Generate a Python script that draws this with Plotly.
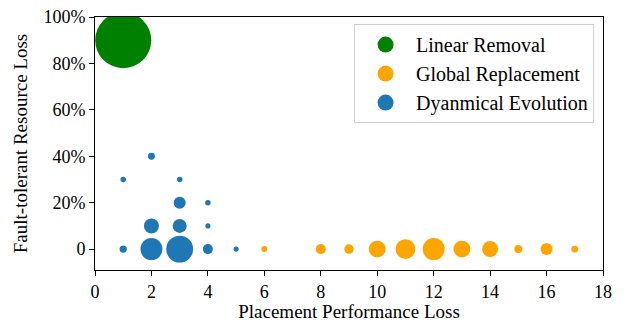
import math
import plotly.graph_objects as go

# Data
lin_x = [1]
lin_y = [90]
lin_w = [104]

glob_x = [6, 8, 9, 10, 11, 12, 13, 14, 15, 16, 17]
glob_y = [0, 0, 0, 0, 0, 0, 0, 0, 0, 0, 0]
glob_w = [1.2, 3.3, 3.0, 9.5, 13, 16, 9.5, 8.5, 2.1, 4.8, 1.6]

dyn_x = [1, 1, 2, 2, 2, 3, 3, 3, 3, 4, 4, 4, 5]
dyn_y = [0, 30, 40, 10, 0, 30, 20, 10, 0, 20, 10, 0, 0]
dyn_w = [1.76, 1, 1.6, 7.4, 16, 1, 4.8, 6.5, 24, 1, 0.85, 3.3, 0.9]

x_ticks = [0, 2, 4, 6, 8, 10, 12, 14, 16, 18]
y_ticks = [0, 20, 40, 60, 80, 100]
y_labels = ["0", "20%", "40%", "60%", "80%", "100%"]

names = ["Linear Removal", "Global Replacement", "Dyanmical Evolution"]
colors = ["#008000", "#ffa500", "#1f77b4"]

FONT = "Liberation Serif, Times New Roman, serif"
UNIT = 5.5  # diameter (px) of a weight-1 bubble


def diam(ws):
    return [UNIT * math.sqrt(w) for w in ws]


fig = go.Figure()
for (xs, ys, ws), name, col in zip(
    [(lin_x, lin_y, lin_w), (glob_x, glob_y, glob_w), (dyn_x, dyn_y, dyn_w)], names, colors
):
    fig.add_trace(go.Scatter(
        x=xs, y=ys, mode="markers", name=name, showlegend=False,
        marker=dict(size=diam(ws), sizemode="diameter", color=col, opacity=1,
                    line=dict(width=0)),
    ))
    fig.add_trace(go.Scatter(
        x=[None], y=[None], mode="markers", name=name, showlegend=True,
        marker=dict(size=20, color=col, opacity=1, line=dict(width=0)),
    ))

axis_common = dict(
    showline=True, linecolor="black", linewidth=1, mirror=True,
    ticks="outside", ticklen=5, tickcolor="black", showgrid=False, zeroline=False,
    automargin=False,
    tickfont=dict(family=FONT, size=18, color="black"),
)

fig.update_layout(
    width=627, height=322,
    margin=dict(l=95, r=24, t=17, b=52),
    paper_bgcolor="white", plot_bgcolor="white",
    font=dict(family=FONT, color="black"),
    xaxis=dict(range=[0, 18], tickvals=x_ticks,
               title=dict(text="Placement Performance Loss", font=dict(family=FONT, size=19), standoff=4),
               **axis_common),
    yaxis=dict(range=[-9, 100], tickvals=y_ticks, ticktext=y_labels,
               title=dict(text="Fault-tolerant Resource Loss", font=dict(family=FONT, size=19), standoff=10),
               **axis_common),
    legend=dict(x=0.51, y=0.972, xanchor="left", yanchor="top",
                bgcolor="white", bordercolor="#d0d0d0", borderwidth=1,
                font=dict(family=FONT, size=20, color="black"),
                itemwidth=51),
    showlegend=True,
)

fig.write_html("out.html", config={"displayModeBar": False},
               post_script="document.body.style.margin='0';")
